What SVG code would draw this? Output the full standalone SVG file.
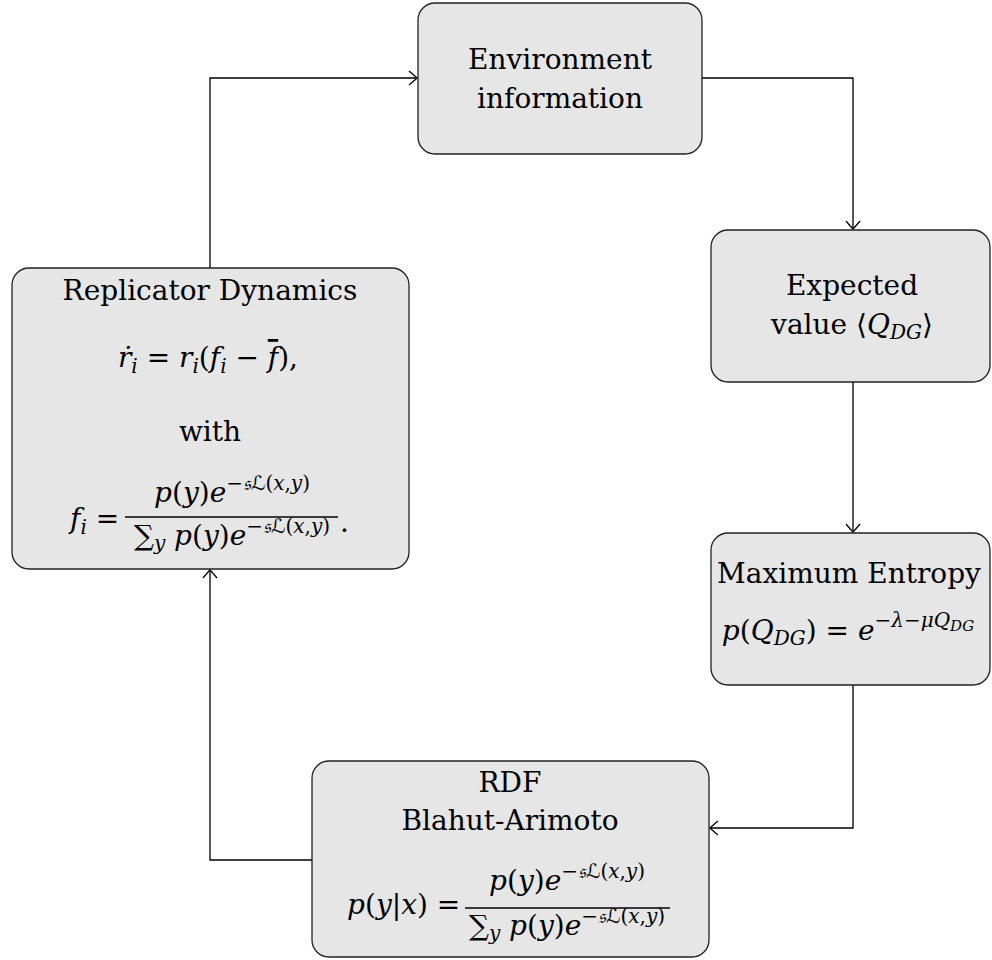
<svg xmlns="http://www.w3.org/2000/svg" width="992" height="960" viewBox="0 0 992 960">
<style>
.box{fill:#e6e6e6;stroke:#222;stroke-width:1.3}
.t{font-family:"DejaVu Serif",serif;font-size:28px;fill:#000}
.m{font-family:"DejaVu Serif",serif;font-style:italic;font-size:28px;fill:#000}
.n{font-style:normal}
.s{font-size:20px}
.L{font-family:"DejaVu Sans",sans-serif;font-style:normal}
.c{fill:none;stroke:#000;stroke-width:1.3}
</style>
<defs>
<marker id="arr" viewBox="-10 -8 12 16" markerWidth="12" markerHeight="16" refX="0" refY="0" orient="auto" markerUnits="userSpaceOnUse">
<path d="M-8,-7 Q-2,-2 0,0 Q-2,2 -8,7" fill="none" stroke="#000" stroke-width="1.3"/>
</marker>
</defs>
<rect width="992" height="960" fill="#fff"/>
<g id="connectors">
<path class="c" d="M210,268 V78 H417" marker-end="url(#arr)"/>
<path class="c" d="M702,78 H853 V229" marker-end="url(#arr)"/>
<path class="c" d="M853,382 V532" marker-end="url(#arr)"/>
<path class="c" d="M853,685 V828 H710" marker-end="url(#arr)"/>
<path class="c" d="M312,860 H210 V570" marker-end="url(#arr)"/>
</g>
<g id="env">
<rect class="box" x="418" y="3" width="284" height="151" rx="17"/>
<text class="t" x="560" y="69" text-anchor="middle">Environment</text>
<text class="t" x="560" y="108" text-anchor="middle">information</text>
</g>
<g id="expected">
<rect class="box" x="711" y="230" width="279" height="152" rx="17"/>
<text class="t" x="852" y="295" text-anchor="middle">Expected</text>
<text class="t" x="852" y="334" text-anchor="middle">value ⟨<tspan class="m">Q</tspan><tspan class="m s" dy="5">DG</tspan><tspan dy="-5">⟩</tspan></text>
</g>
<g id="maxent">
<rect class="box" x="711" y="533" width="279" height="152" rx="17"/>
<text class="t" x="849" y="583" text-anchor="middle">Maximum Entropy</text>
<text class="m" x="848" y="640" text-anchor="middle">p<tspan class="n">(</tspan>Q<tspan class="s" dy="5">DG</tspan><tspan class="n" dy="-5">) = </tspan>e<tspan class="s" dy="-13"><tspan class="n">−</tspan>λ<tspan class="n">−</tspan>μQ</tspan><tspan font-size="15" dy="4">DG</tspan></text>
</g>
<g id="replicator">
<rect class="box" x="12" y="268" width="397" height="301" rx="17"/>
<text class="t" x="210" y="300" text-anchor="middle">Replicator Dynamics</text>
<text class="m" x="208" y="367" text-anchor="middle">ṙ<tspan class="s" dy="6">i</tspan><tspan class="n" dy="-6"> = </tspan>r<tspan class="s" dy="6">i</tspan><tspan class="n" dy="-6">(</tspan>f<tspan class="s" dy="6">i</tspan><tspan class="n" dy="-6"> − </tspan><tspan text-decoration="overline">f</tspan><tspan class="n">),</tspan></text>
<text class="t" x="210" y="441" text-anchor="middle">with</text>
<text class="m" x="70" y="528">f<tspan class="s" dy="6">i</tspan><tspan class="n" dy="-6"> =</tspan></text>
<text class="m" x="232" y="502" text-anchor="middle">p<tspan class="n">(</tspan>y<tspan class="n">)</tspan>e<tspan class="s" dy="-12"><tspan class="n">−</tspan>𝔰<tspan class="L">ℒ</tspan><tspan class="n">(</tspan>x<tspan class="n">,</tspan>y<tspan class="n">)</tspan></tspan></text>
<line x1="125" y1="517" x2="338" y2="517" stroke="#000" stroke-width="1.3"/>
<text class="m" x="232" y="545" text-anchor="middle"><tspan class="n">∑</tspan><tspan class="s" dy="5">y</tspan><tspan dy="-5"> p</tspan><tspan class="n">(</tspan>y<tspan class="n">)</tspan>e<tspan class="s" dy="-12"><tspan class="n">−</tspan>𝔰<tspan class="L">ℒ</tspan><tspan class="n">(</tspan>x<tspan class="n">,</tspan>y<tspan class="n">)</tspan></tspan></text>
<text class="t" x="340" y="532">.</text>
</g>
<g id="rdf">
<rect class="box" x="312" y="761" width="397" height="196" rx="17"/>
<text class="t" x="510" y="792" text-anchor="middle">RDF</text>
<text class="t" x="510" y="830" text-anchor="middle">Blahut-Arimoto</text>
<text class="m" x="347" y="914">p<tspan class="n">(</tspan>y<tspan class="n">|</tspan>x<tspan class="n">) =</tspan></text>
<text class="m" x="567" y="890" text-anchor="middle">p<tspan class="n">(</tspan>y<tspan class="n">)</tspan>e<tspan class="s" dy="-12"><tspan class="n">−</tspan>𝔰<tspan class="L">ℒ</tspan><tspan class="n">(</tspan>x<tspan class="n">,</tspan>y<tspan class="n">)</tspan></tspan></text>
<line x1="465" y1="908" x2="670" y2="908" stroke="#000" stroke-width="1.3"/>
<text class="m" x="567" y="935" text-anchor="middle"><tspan class="n">∑</tspan><tspan class="s" dy="5">y</tspan><tspan dy="-5"> p</tspan><tspan class="n">(</tspan>y<tspan class="n">)</tspan>e<tspan class="s" dy="-12"><tspan class="n">−</tspan>𝔰<tspan class="L">ℒ</tspan><tspan class="n">(</tspan>x<tspan class="n">,</tspan>y<tspan class="n">)</tspan></tspan></text>
</g>
</svg>
